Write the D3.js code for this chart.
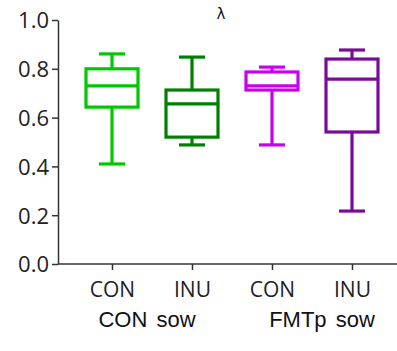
<!DOCTYPE html>
<html>
<head>
<meta charset="utf-8">
<script src="https://cdn.jsdelivr.net/npm/d3@7"></script>
<style>
  body { margin: 0; background: #fff; }
</style>
</head>
<body>
<div id="chart"></div>
<script>
// box plot values
const categories = ["CON", "INU", "CON", "INU"];
const groups = ["CON sow", "FMTp sow"];
const mins    = [0.41, 0.488, 0.488, 0.217];
const q1s     = [0.643, 0.52, 0.713, 0.541];
const medians = [0.73, 0.656, 0.73, 0.758];
const q3s     = [0.80, 0.713, 0.787, 0.84];
const maxs    = [0.861, 0.848, 0.807, 0.877];
const colors  = ["#00c800", "#008000", "#c800f0", "#7a0a9a"];
const yTicks  = [0, 0.2, 0.4, 0.6, 0.8, 1.0];

const width = 397, height = 351;
const margin = {top: 20, right: 0, bottom: 87, left: 58};

const svg = d3.select("#chart")
    .append("svg")
    .attr("width", width)
    .attr("height", height);

const g = svg.append("g")
    .attr("transform", "translate(" + margin.left + "," + margin.top + ")");

const innerW = width - margin.left - margin.right;
const innerH = height - margin.top - margin.bottom;

const x = d3.scalePoint()
    .domain(d3.range(categories.length))
    .range([54, 294]);

const y = d3.scaleLinear()
    .domain([0, 1])
    .range([innerH, 0]);

// Y axis
const yAxis = g.append("g")
    .call(d3.axisLeft(y).tickValues(yTicks).tickFormat(d3.format(".1f")).tickSize(6).tickSizeOuter(0));
yAxis.select(".domain").attr("stroke", "#333").attr("stroke-width", 1.5);
yAxis.selectAll(".tick line").attr("stroke", "#333").attr("stroke-width", 1.5);
yAxis.selectAll("text")
    .attr("fill", "#222")
    .attr("x", -9)
    .attr("dy", "0.36em")
    .style("font-family", "'Open Sans', sans-serif")
    .style("font-size", "22px");

// X axis
const xAxis = g.append("g")
    .attr("transform", "translate(0," + innerH + ")")
    .call(d3.axisBottom(x).tickFormat(i => categories[i]).tickSize(6).tickSizeOuter(0));
xAxis.select(".domain").attr("d", "M0,0H" + innerW).attr("stroke", "#333").attr("stroke-width", 1.5);
xAxis.selectAll(".tick line").attr("stroke", "#333").attr("stroke-width", 1.5);
xAxis.selectAll("text")
    .attr("fill", "#222")
    .attr("y", 33)
    .attr("dy", 0)
    .style("font-family", "'Open Sans', sans-serif")
    .style("font-size", "21px");

// group labels
const groupShift = [-5, 10];
g.selectAll(".group")
    .data(groups)
    .join("text")
    .attr("class", "group")
    .attr("x", (d, i) => (x(i * 2) + x(i * 2 + 1)) / 2 + groupShift[i])
    .attr("y", innerH + 63)
    .attr("text-anchor", "middle")
    .attr("fill", "#111")
    .attr("word-spacing", 3)
    .style("font-family", "'Liberation Sans', Arial, sans-serif")
    .style("font-size", "22px")
    .text(d => d);

// title
svg.append("text")
    .attr("x", 221)
    .attr("y", 19)
    .attr("text-anchor", "middle")
    .attr("fill", "#111")
    .style("font-family", "'DejaVu Sans', sans-serif")
    .style("font-size", "15px")
    .text("λ");

// boxes
const boxW = 52, capW = 26;
const boxes = g.selectAll(".box")
    .data(d3.range(categories.length))
    .join("g")
    .attr("class", "box")
    .attr("stroke", i => colors[i])
    .attr("stroke-width", 3.2)
    .attr("fill", "none");

boxes.append("line")
    .attr("x1", i => x(i)).attr("x2", i => x(i))
    .attr("y1", i => y(maxs[i])).attr("y2", i => y(q3s[i]));
boxes.append("line")
    .attr("x1", i => x(i)).attr("x2", i => x(i))
    .attr("y1", i => y(q1s[i])).attr("y2", i => y(mins[i]));
boxes.append("line")
    .attr("x1", i => x(i) - capW / 2).attr("x2", i => x(i) + capW / 2)
    .attr("y1", i => y(maxs[i])).attr("y2", i => y(maxs[i]));
boxes.append("line")
    .attr("x1", i => x(i) - capW / 2).attr("x2", i => x(i) + capW / 2)
    .attr("y1", i => y(mins[i])).attr("y2", i => y(mins[i]));
boxes.append("rect")
    .attr("x", i => x(i) - boxW / 2)
    .attr("width", boxW)
    .attr("y", i => y(q3s[i]))
    .attr("height", i => y(q1s[i]) - y(q3s[i]));
boxes.append("line")
    .attr("x1", i => x(i) - boxW / 2).attr("x2", i => x(i) + boxW / 2)
    .attr("y1", i => y(medians[i])).attr("y2", i => y(medians[i]));
</script>
</body>
</html>
